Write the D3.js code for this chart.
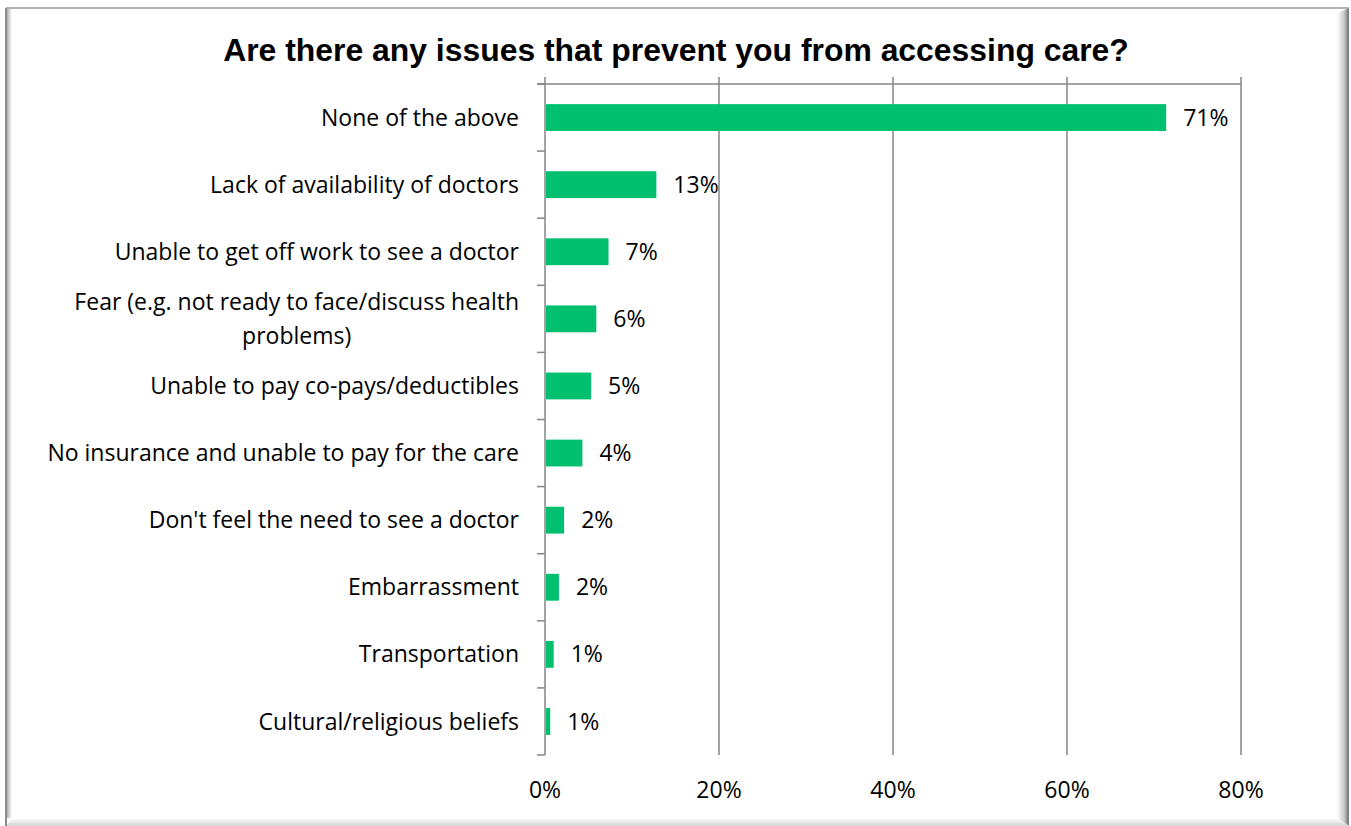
<!DOCTYPE html>
<html>
<head>
<meta charset="utf-8">
<script src="https://cdn.jsdelivr.net/npm/d3@7"></script>
<style>
  html, body { margin: 0; padding: 0; background: #fff; }
  svg { display: block; }
</style>
</head>
<body>
<svg id="chart" width="1351" height="826"></svg>
<script>
// Survey answers, in the order they are listed (top to bottom)
const categories = [
  "None of the above",
  "Lack of availability of doctors",
  "Unable to get off work to see a doctor",
  "Fear (e.g. not ready to face/discuss health|problems)",
  "Unable to pay co-pays/deductibles",
  "No insurance and unable to pay for the care",
  "Don't feel the need to see a doctor",
  "Embarrassment",
  "Transportation",
  "Cultural/religious beliefs"
];
// Share of respondents (percent)
const shares = [71.4, 12.8, 7.3, 5.9, 5.3, 4.3, 2.2, 1.6, 1.0, 0.6];
const xTicks = [0, 20, 40, 60, 80];
const title = "Are there any issues that prevent you from accessing care?";

const W = 1351, H = 826;
const svg = d3.select("#chart");
const defs = svg.append("defs");

// ---- outer frame with bevelled shadow ----
const gR = defs.append("linearGradient").attr("id", "shR").attr("x1", 0).attr("x2", 1).attr("y1", 0).attr("y2", 0);
gR.append("stop").attr("offset", 0).attr("stop-color", "#ffffff");
gR.append("stop").attr("offset", 0.6).attr("stop-color", "#c8c8c8");
gR.append("stop").attr("offset", 1).attr("stop-color", "#6e6e6e");
const gB = defs.append("linearGradient").attr("id", "shB").attr("x1", 0).attr("x2", 0).attr("y1", 0).attr("y2", 1);
gB.append("stop").attr("offset", 0).attr("stop-color", "#ffffff");
gB.append("stop").attr("offset", 1).attr("stop-color", "#d4d4d4");
const gL = defs.append("linearGradient").attr("id", "shL").attr("x1", 0).attr("x2", 1).attr("y1", 0).attr("y2", 0);
gL.append("stop").attr("offset", 0).attr("stop-color", "#b0b0b0");
gL.append("stop").attr("offset", 1).attr("stop-color", "#ffffff");

svg.append("rect").attr("x", 0).attr("y", 0).attr("width", W).attr("height", H).attr("fill", "#fff");
// right bevel
svg.append("polygon")
  .attr("points", "1337,13 1349,8 1349,826 1337,818")
  .attr("fill", "url(#shR)");
// bottom bevel
svg.append("polygon")
  .attr("points", "12,818 1337,818 1349,826 6,826")
  .attr("fill", "url(#shB)");
// left inner shade
svg.append("rect").attr("x", 7).attr("y", 9).attr("width", 5).attr("height", 809).attr("fill", "url(#shL)");
// frame edges
svg.append("line").attr("x1", 6).attr("x2", 6).attr("y1", 8).attr("y2", 826)
  .attr("stroke", "#8c8c8c").attr("stroke-width", 2);
svg.append("line").attr("x1", 6).attr("x2", 1349).attr("y1", 8).attr("y2", 8)
  .attr("stroke", "#9a9a9a").attr("stroke-width", 1.5);

// ---- title ----
svg.append("text")
  .attr("x", 676).attr("y", 61)
  .attr("text-anchor", "middle")
  .attr("font-family", "'Liberation Sans', Arial, sans-serif")
  .attr("font-weight", "bold")
  .attr("font-size", 31.9)
  .attr("fill", "#000")
  .text(title);

// ---- scales ----
const plot = { left: 545, right: 1241, top: 84, bottom: 755 };
const x = d3.scaleLinear().domain([0, 80]).range([plot.left, plot.right]);
const y = d3.scaleBand().domain(categories).range([plot.top, plot.bottom]).paddingInner(0).paddingOuter(0);
const barH = y.bandwidth() * 0.4;

const gridColor = "#868686";
const labelFont = "'Open Sans', Lato, sans-serif";
const labelSize = 23;
const fmt = d3.format(".0f");

// vertical gridlines (they poke a little above the plot top)
svg.append("g").selectAll("line").data(xTicks.slice(1)).join("line")
  .attr("x1", d => x(d)).attr("x2", d => x(d))
  .attr("y1", plot.top - 7).attr("y2", plot.bottom)
  .attr("stroke", gridColor).attr("stroke-width", 1.5);

// top horizontal line
svg.append("line")
  .attr("x1", plot.left - 8).attr("x2", plot.right)
  .attr("y1", plot.top).attr("y2", plot.top)
  .attr("stroke", gridColor).attr("stroke-width", 1.5);

// category axis with ticks at band boundaries
const yAxis = svg.append("g");
yAxis.append("line")
  .attr("x1", plot.left).attr("x2", plot.left)
  .attr("y1", plot.top - 7).attr("y2", plot.bottom)
  .attr("stroke", gridColor).attr("stroke-width", 1.5);
const bounds = categories.map(c => y(c)).concat([y(categories[categories.length - 1]) + y.bandwidth()]);
yAxis.selectAll("line.tick").data(bounds).join("line")
  .attr("class", "tick")
  .attr("x1", plot.left - 8).attr("x2", plot.left)
  .attr("y1", d => d).attr("y2", d => d)
  .attr("stroke", gridColor).attr("stroke-width", 1.5);

// category labels (multi-line labels are centred within their block)
categories.forEach(c => {
  const lines = c.split("|");
  const cy = y(c) + y.bandwidth() / 2;
  const lh = 34;
  const t = svg.append("text")
    .attr("font-family", labelFont)
    .attr("font-size", labelSize)
    .attr("fill", "#000");
  if (lines.length === 1) {
    t.attr("x", 519).attr("y", cy).attr("dy", "0.35em").attr("text-anchor", "end").text(lines[0]);
  } else {
    lines.forEach((ln, i) => {
      t.append("tspan").attr("y", cy + (i - (lines.length - 1) / 2) * lh).attr("dy", "0.35em").text(ln);
    });
    const widths = [];
    t.selectAll("tspan").each(function () { widths.push(this.getComputedTextLength()); });
    const maxW = d3.max(widths);
    const centre = 519 - maxW / 2;
    t.attr("text-anchor", "middle");
    t.selectAll("tspan").attr("x", centre);
  }
});

// bars
const data = categories.map((c, i) => ({ c, v: shares[i] }));
svg.append("g").selectAll("rect").data(data).join("rect")
  .attr("x", x(0) + 1)
  .attr("y", d => y(d.c) + (y.bandwidth() - barH) / 2)
  .attr("width", d => x(d.v) - x(0) - 1)
  .attr("height", barH)
  .attr("fill", "#00bf6f");

// value labels
svg.append("g").selectAll("text").data(data).join("text")
  .attr("x", d => x(d.v) + 17)
  .attr("y", d => y(d.c) + y.bandwidth() / 2)
  .attr("dy", "0.35em")
  .attr("font-family", labelFont)
  .attr("font-size", labelSize)
  .attr("fill", "#000")
  .text(d => fmt(d.v) + "%");

// x tick labels
svg.append("g").selectAll("text").data(xTicks).join("text")
  .attr("x", d => x(d))
  .attr("y", 790)
  .attr("dy", "0.35em")
  .attr("text-anchor", "middle")
  .attr("font-family", labelFont)
  .attr("font-size", labelSize)
  .attr("fill", "#000")
  .text(d => d + "%");
</script>
</body>
</html>
